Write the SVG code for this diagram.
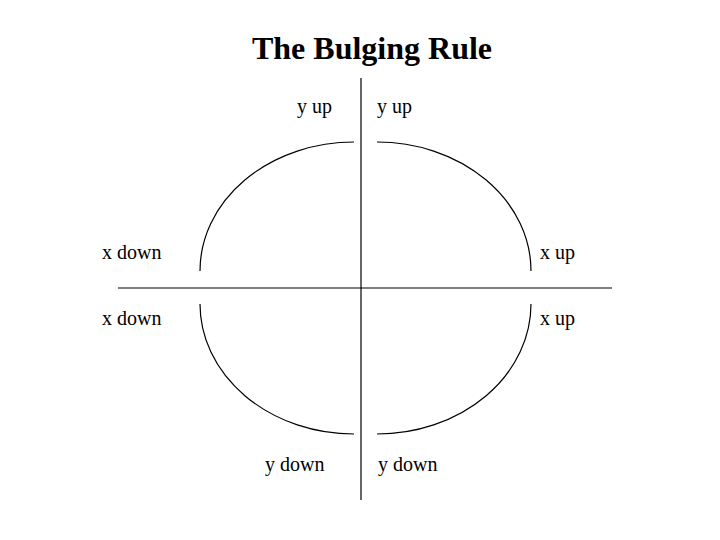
<svg xmlns="http://www.w3.org/2000/svg" width="720" height="540" viewBox="0 0 720 540">
<style>
.t{font-family:"Liberation Serif","Times New Roman",serif;font-size:20px;fill:#000}
.title{font-family:"Liberation Serif","Times New Roman",serif;font-size:32px;font-weight:bold;fill:#000}
.ln{stroke:#000;stroke-width:1.2;fill:none}
</style>
<rect width="720" height="540" fill="#fff"/>
<text class="title" x="372" y="59" text-anchor="middle">The Bulging Rule</text>
<g id="axes">
<line class="ln" x1="361" y1="78" x2="361" y2="500"/>
<line class="ln" x1="118" y1="288" x2="612" y2="288"/>
</g>
<g id="connectors">
<path id="arc-tl" class="ln" d="M200,271 A154,129 0 0 1 354,142"/>
<path id="arc-tr" class="ln" d="M377,142 A154,129 0 0 1 531,271"/>
<path id="arc-bl" class="ln" d="M200,304 A154,130 0 0 0 354,434"/>
<path id="arc-br" class="ln" d="M377,434 A154,130 0 0 0 531,304"/>
</g>
<g id="label-yup-l"><text class="t" x="297" y="113">y up</text></g>
<g id="label-yup-r"><text class="t" x="377" y="113">y up</text></g>
<g id="label-xdown-t"><text class="t" x="102" y="259">x down</text></g>
<g id="label-xup-t"><text class="t" x="540" y="259">x up</text></g>
<g id="label-xdown-b"><text class="t" x="102" y="325">x down</text></g>
<g id="label-xup-b"><text class="t" x="540" y="325">x up</text></g>
<g id="label-ydown-l"><text class="t" x="265" y="471">y down</text></g>
<g id="label-ydown-r"><text class="t" x="378" y="471">y down</text></g>
</svg>
